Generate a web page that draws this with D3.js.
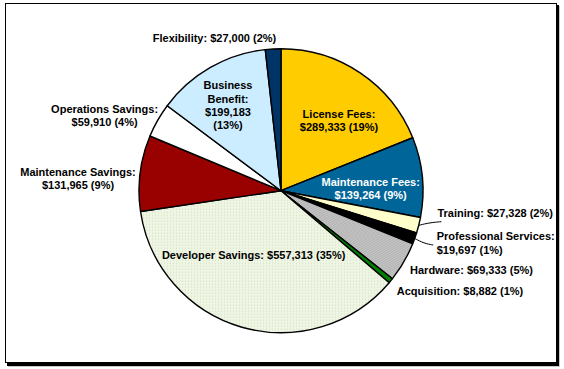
<!DOCTYPE html>
<html lang="en">
<head>
<meta charset="UTF-8">
<title>Cost / Benefit Pie</title>
<script src="https://d3js.org/d3.v7.min.js"></script>
<style>
  body { margin: 0; background: #fff; }
  svg text {
    font-family: "Liberation Sans", Arial, sans-serif;
    font-weight: bold;
    font-size: 11px;
  }
</style>
</head>
<body>
<svg width="564" height="369"></svg>
<script>
// slice data, clockwise from 12 o'clock
const categories = ["License Fees", "Maintenance Fees", "Training", "Professional Services",
  "Hardware", "Acquisition", "Developer Savings", "Maintenance Savings",
  "Operations Savings", "Business Benefit", "Flexibility"];
const values = [289333, 139264, 27328, 19697, 69333, 8882, 557313, 131965, 59910, 199183, 27000];
const percents = ["19%", "9%", "2%", "1%", "5%", "1%", "35%", "9%", "4%", "13%", "2%"];

const colors = ["#ffcc00", "#006699", "#ffffcc", "#000000", "url(#hatch)", "#008000",
  "url(#dots)", "#990000", "#ffffff", "#ccecff", "#003366"];

// how each label is broken into lines
const fmt = d3.format("$,");
const twoLines = i => [categories[i] + ":", fmt(values[i]) + " (" + percents[i] + ")"];
const oneLine = i => [categories[i] + ": " + fmt(values[i]) + " (" + percents[i] + ")"];
const labelLines = [
  twoLines, twoLines, oneLine, twoLines, oneLine, oneLine, oneLine, twoLines, twoLines,
  i => ["Business", "Benefit:", fmt(values[i]), "(" + percents[i] + ")"],
  oneLine
];

// label placement relative to the pie centre (as Excel left them)
const labelLayout = [
  {dx: 58, dy: -70.5, anchor: "middle"},
  {dx: 89.7, dy: -2, anchor: "middle", color: "#fff"},
  {dx: 156.4, dy: 22, anchor: "start", leader: [4, 9]},
  {dx: 155.7, dy: 52.3, anchor: "start", leader: [-3.5, 2]},
  {dx: 190.5, dy: 79.3, anchor: "middle"},
  {dx: 179, dy: 100.3, anchor: "middle"},
  {dx: -27.4, dy: 64.6, anchor: "middle"},
  {dx: -203, dy: -12.1, anchor: "middle"},
  {dx: -176.4, dy: -75, anchor: "middle"},
  {dx: -53, dy: -85.5, anchor: "middle"},
  {dx: -66.5, dy: -152.4, anchor: "middle"}
];

const cx = 281, cy = 190.7, radius = 142;
const lineH = 13.3;

const svg = d3.select("svg");

// patterns
const defs = svg.append("defs");
const hatch = defs.append("pattern")
  .attr("id", "hatch").attr("patternUnits", "userSpaceOnUse")
  .attr("width", 2).attr("height", 2)
  .attr("patternTransform", "rotate(-30)");
hatch.append("rect").attr("width", 2).attr("height", 2).attr("fill", "#c6c6c6");
hatch.append("rect").attr("width", 2).attr("height", 1).attr("fill", "#b2b2b2");

const dots = defs.append("pattern")
  .attr("id", "dots").attr("patternUnits", "userSpaceOnUse")
  .attr("width", 3).attr("height", 3);
dots.append("rect").attr("width", 3).attr("height", 3).attr("fill", "#eef5e3");
dots.append("rect").attr("width", 1).attr("height", 1).attr("fill", "#d3dfc5");

// frame with shadow
svg.append("rect").attr("x", 8).attr("y", 6).attr("width", 552).attr("height", 361).attr("fill", "#c8c8c8");
svg.append("rect").attr("x", 7).attr("y", 5).attr("width", 552).attr("height", 361).attr("fill", "#000");
svg.append("rect").attr("x", 5.5).attr("y", 3.5).attr("width", 551).attr("height", 359)
  .attr("fill", "#fff").attr("stroke", "#000").attr("stroke-width", 1);

// pie
const pie = d3.pie().sort(null).value(d => d);
const arcs = pie(values);
const arc = d3.arc().innerRadius(0).outerRadius(radius);

const g = svg.append("g").attr("transform", `translate(${cx},${cy})`);

g.selectAll("path.slice")
  .data(arcs)
  .enter().append("path")
  .attr("class", "slice")
  .attr("d", arc)
  .attr("fill", (d, i) => colors[i])
  .attr("stroke", "#000")
  .attr("stroke-width", 1.4)
  .attr("stroke-linejoin", "round");

// leader lines
arcs.forEach((d, i) => {
  const L = labelLayout[i];
  if (!L.leader) return;
  const a = (d.startAngle + d.endAngle) / 2;
  const x0 = radius * Math.sin(a), y0 = -radius * Math.cos(a);
  g.append("path")
    .attr("d", d3.line().curve(d3.curveBasis)([
      [x0, y0],
      [x0 + (L.dx + L.leader[0] - x0) * 0.5, y0 + (L.dy + L.leader[1] - y0) * 0.75],
      [L.dx + L.leader[0], L.dy + L.leader[1]]
    ]))
    .attr("fill", "none")
    .attr("stroke", "#000")
    .attr("stroke-width", 1);
});

// labels
arcs.forEach((d, i) => {
  const L = labelLayout[i];
  const lines = labelLines[i](i);
  const t = g.append("text")
    .attr("text-anchor", L.anchor)
    .attr("fill", L.color || "#000");
  lines.forEach((s, k) => {
    t.append("tspan")
      .attr("x", L.dx)
      .attr("y", L.dy + (k - (lines.length - 1) / 2) * lineH)
      .attr("dy", "0.36em")
      .text(s);
  });
});
</script>
</body>
</html>
